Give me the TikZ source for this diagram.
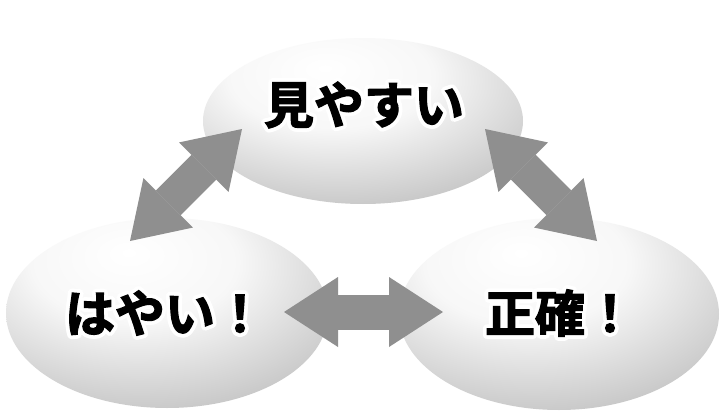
\documentclass[tikz,border=0pt]{standalone}
\usepackage{fontspec}
\newfontfamily\jp[FakeBold=2.5]{Noto Sans CJK JP Bold}
\usetikzlibrary{arrows.meta,shapes.geometric}
\definecolor{arrowgray}{RGB}{143,143,143}
\pgfdeclareradialshading{ballgray}{\pgfpoint{-6bp}{16bp}}{%
  color(0bp)=(white); color(16bp)=(white!97!black); color(40bp)=(black!25);
  color(55bp)=(black!33); color(100bp)=(black!33)}
\tikzset{
  ell/.style={ellipse, inner sep=0pt, shading=ballgray, draw=none},
  dbl/.style={draw=arrowgray, line width=35pt,
    {Triangle[width=70pt,length=54pt,line width=0pt]}-{Triangle[width=70pt,length=54pt,line width=0pt]}},
  txt/.style={font=\jp\fontsize{50}{50}\selectfont, inner sep=0pt, text=black},
}
\newcommand\halotext[3]{%
  \foreach \a in {0,22.5,...,337.5}{\node[txt, text=white, shift={(\a:3.8)}] (#1h\a) at (#2) {#3};}
  \node[txt] (#1) at (#2) {#3};}
\begin{document}
\begin{tikzpicture}[x=1pt,y=-1pt]
\useasboundingbox[fill=white] (0,0) rectangle (721,415);
\node[ell, minimum width=320pt, minimum height=166pt] (top) at (363,121) {};
\node[ell, minimum width=322pt, minimum height=190pt] (left) at (167,313) {};
\node[ell, minimum width=320pt, minimum height=192pt] (right) at (559,314) {};
\coordinate (a1) at (130,241); \coordinate (a2) at (242,129);
\coordinate (b1) at (485,129); \coordinate (b2) at (597,241);
\coordinate (c1) at (284,312); \coordinate (c2) at (443,312);
\draw[dbl] (a1) -- (a2);
\draw[dbl] (b1) -- (b2);
\draw[dbl] (c1) -- (c2);
\halotext{t1}{364,105}{見やすい}
\halotext{t2}{165,313}{はやい！}
\halotext{t3}{560,313}{正確！}
\end{tikzpicture}
\end{document}
